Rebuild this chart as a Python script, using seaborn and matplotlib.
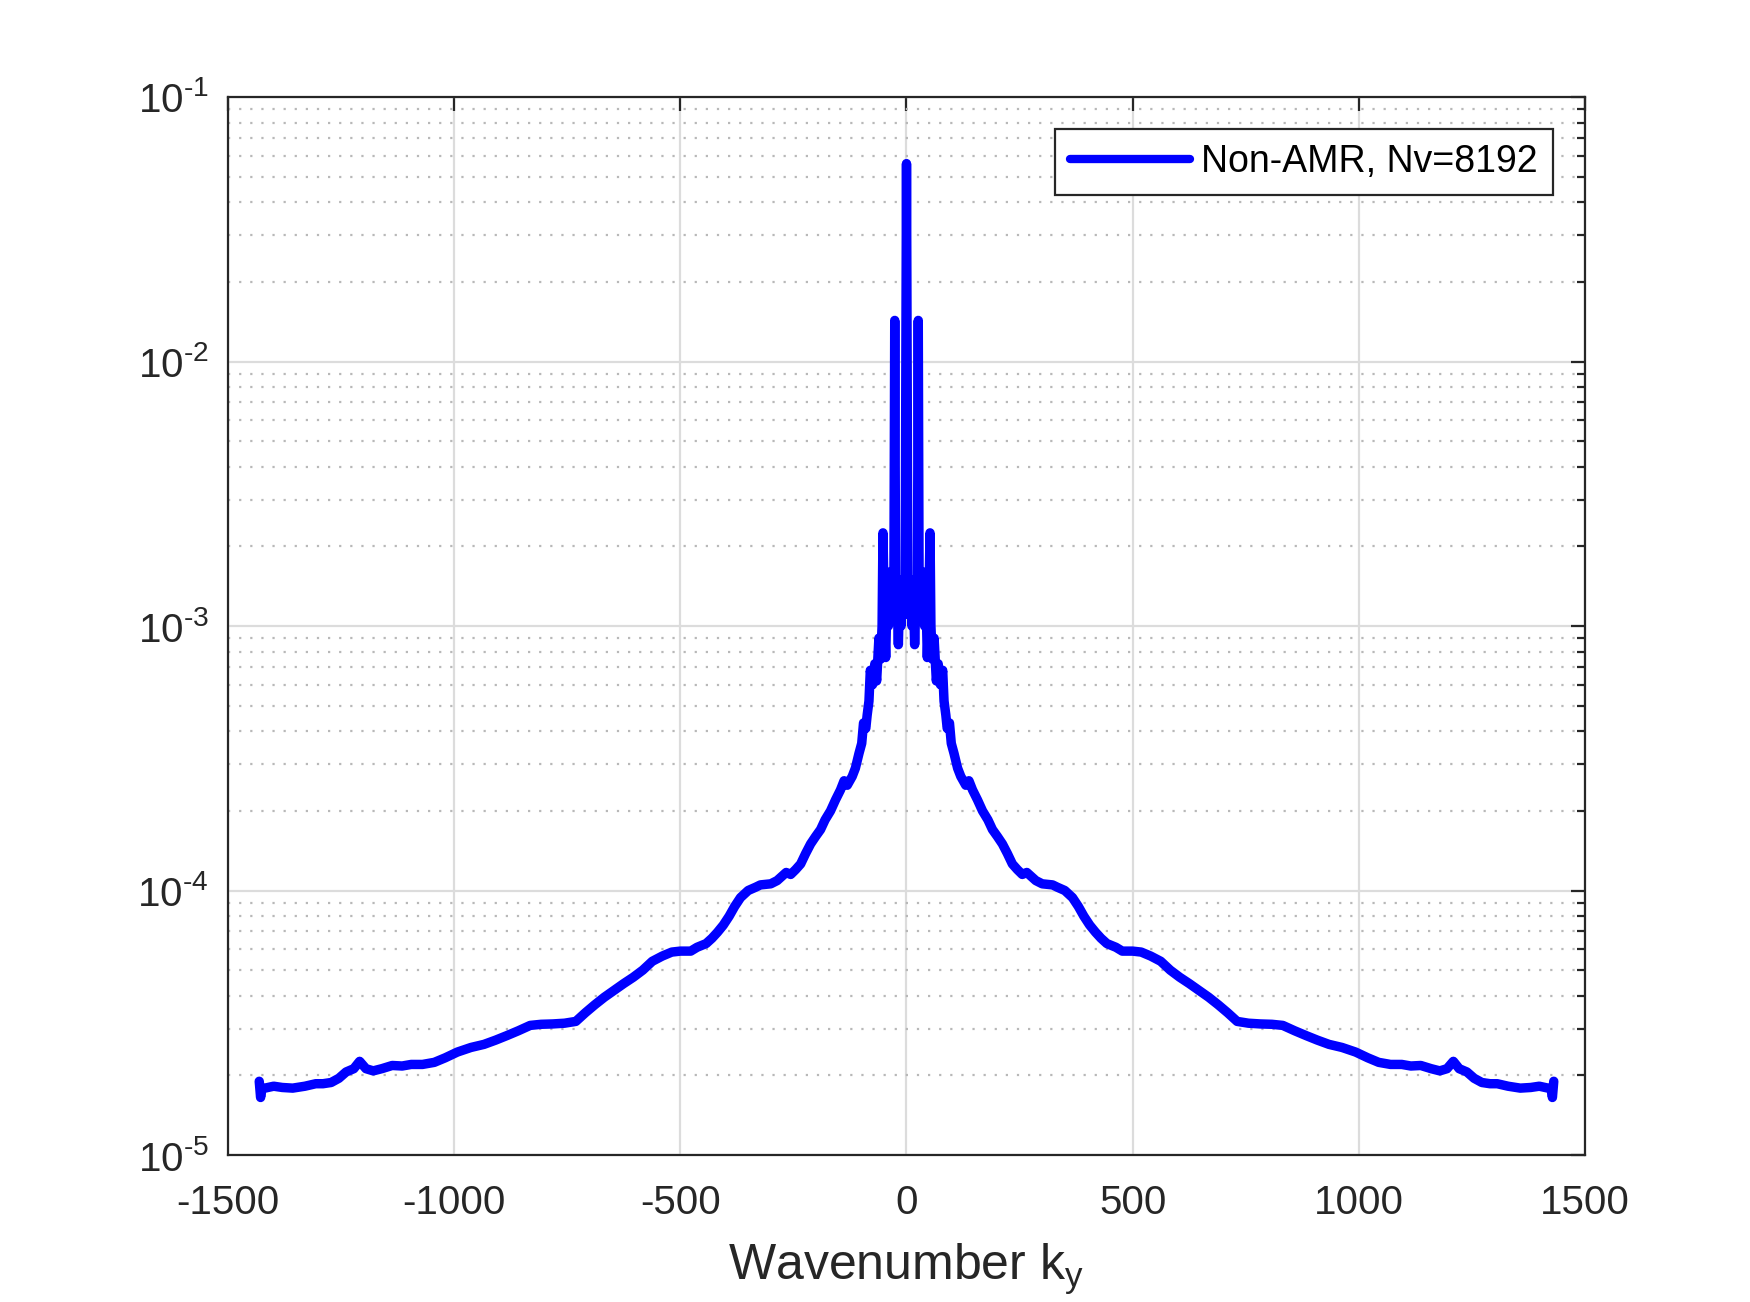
import numpy as np
import pandas as pd
import matplotlib
matplotlib.use("Agg")
import matplotlib.pyplot as plt
import seaborn as sns
from matplotlib.ticker import LogLocator, FixedLocator, NullFormatter, FuncFormatter

# spectrum, right half (k >= 0); the left half is its mirror
k_half = [0, 3, 6, 9, 12, 15, 18, 21, 24, 26, 28, 31, 34, 37, 40, 43, 46, 49, 52, 54,
          57, 61, 66, 70, 75, 80, 83, 87, 90, 95, 99, 105, 113, 120, 131, 138, 146, 157,
          168, 180, 190, 201, 212, 223, 234, 245, 256, 266, 286, 300, 323, 333, 350, 367,
          380, 392, 405, 418, 430, 443, 463, 477, 500, 519, 540, 562, 583, 604, 625, 646,
          668, 689, 710, 731, 756, 782, 808, 832, 858, 883, 908, 934, 963, 993, 1020, 1044,
          1070, 1095, 1115, 1137, 1160, 1179, 1195, 1209, 1222, 1239, 1255, 1272, 1290,
          1306, 1330, 1357, 1380, 1399, 1412, 1425, 1428, 1431]
s_half = [5.6e-2, 1.4e-3, 1.1e-3, 1.5e-3, 1.0e-3, 1.4e-3, 8.5e-4, 1.3e-3, 1.1e-3, 1.43e-2,
          1.2e-3, 1.5e-3, 1.1e-3, 1.6e-3, 1.0e-3, 1.3e-3, 7.6e-4, 1.1e-3, 2.25e-3, 1.0e-3,
          7.5e-4, 9.0e-4, 6.2e-4, 7.2e-4, 6.0e-4, 6.8e-4, 5.2e-4, 4.6e-4, 4.1e-4, 4.3e-4,
          3.6e-4, 3.3e-4, 2.9e-4, 2.7e-4, 2.5e-4, 2.6e-4, 2.4e-4, 2.2e-4, 2.0e-4, 1.85e-4,
          1.7e-4, 1.6e-4, 1.5e-4, 1.38e-4, 1.26e-4, 1.2e-4, 1.15e-4, 1.17e-4, 1.09e-4, 1.06e-4,
          1.05e-4, 1.03e-4, 1.0e-4, 9.4e-5, 8.7e-5, 8.0e-5, 7.4e-5, 6.95e-5, 6.6e-5, 6.3e-5,
          6.1e-5, 5.9e-5, 5.9e-5, 5.85e-5, 5.65e-5, 5.4e-5, 5.0e-5, 4.7e-5, 4.45e-5, 4.2e-5,
          3.95e-5, 3.7e-5, 3.45e-5, 3.2e-5, 3.15e-5, 3.13e-5, 3.12e-5, 3.09e-5, 2.95e-5,
          2.83e-5, 2.72e-5, 2.62e-5, 2.55e-5, 2.45e-5, 2.33e-5, 2.24e-5, 2.2e-5, 2.2e-5,
          2.17e-5, 2.18e-5, 2.12e-5, 2.08e-5, 2.12e-5, 2.26e-5, 2.12e-5, 2.06e-5, 1.95e-5,
          1.88e-5, 1.86e-5, 1.86e-5, 1.82e-5, 1.79e-5, 1.8e-5, 1.82e-5, 1.8e-5, 1.78e-5,
          1.65e-5, 1.9e-5]
series_name = "Non-AMR, Nv=8192"
x_ticks = [-1500, -1000, -500, 0, 500, 1000, 1500]

k = np.concatenate([-np.array(k_half[:0:-1]), np.array(k_half)])
s = np.concatenate([np.array(s_half[:0:-1]), np.array(s_half)])
df = pd.DataFrame({"k": k, "S": s})

sns.set_style("white")
plt.rcParams["font.family"] = ["Liberation Sans", "DejaVu Sans"]
plt.rcParams["mathtext.fontset"] = "custom"
plt.rcParams["mathtext.rm"] = "Liberation Sans"
plt.rcParams["mathtext.it"] = "Liberation Sans"

txt = "#262626"
fig = plt.figure(figsize=(8.75, 6.51), dpi=200)
ax = fig.add_axes([0.1303, 0.1129, 0.7754, 0.8126])

sns.lineplot(data=df, x="k", y="S", ax=ax, color=(0, 0, 1), linewidth=3.4,
             estimator=None, sort=False, label=series_name)

ax.set_yscale("log")
ax.set_xlim(-1500, 1500)
ax.set_ylim(1e-5, 1e-1)
ax.xaxis.set_major_locator(FixedLocator(x_ticks))
ax.set_xticklabels([str(t) for t in x_ticks])
ax.yaxis.set_major_locator(LogLocator(base=10, numticks=10))
ax.yaxis.set_major_formatter(FuncFormatter(
    lambda v, p: "10$^{\\text{%d}}$" % int(round(np.log10(v)))))
ax.yaxis.set_minor_locator(LogLocator(base=10, subs=np.arange(2, 10), numticks=20))
ax.yaxis.set_minor_formatter(NullFormatter())

ax.grid(True, which="major", color="#dcdcdc", linewidth=0.8, linestyle="-")
ax.grid(True, which="minor", axis="y", color="#b8b8b8", linewidth=0.8,
        linestyle=(0, (1, 4)))
ax.set_axisbelow(True)

for sp in ax.spines.values():
    sp.set_color(txt)
    sp.set_linewidth(0.8)
ax.tick_params(which="both", direction="in", top=True, right=True, colors=txt,
               labelsize=14.5, width=0.8)
ax.tick_params(which="major", length=5)
ax.tick_params(which="minor", length=3)
ax.tick_params(axis="x", pad=10.5)
ax.tick_params(axis="y", pad=7)

ax.set_xlabel("Wavenumber k$_\\mathregular{y}$", fontsize=18, color=txt, labelpad=7)
ax.set_ylabel("")

leg = ax.legend(loc="upper right", fontsize=13.5, frameon=True, fancybox=False,
                framealpha=1, edgecolor=txt, borderaxespad=0.85, handlelength=3.2,
                handletextpad=0.3, borderpad=0.4)
leg.get_frame().set_linewidth(0.8)
for line in leg.get_lines():
    line.set_linewidth(3)
for t in leg.get_texts():
    t.set_color("black")

fig.savefig("out.png", dpi=200, facecolor="white")
